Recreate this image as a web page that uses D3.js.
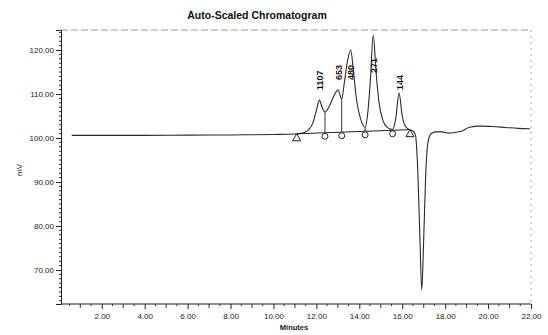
<!DOCTYPE html>
<html>
<head>
<meta charset="utf-8">
<script src="https://cdn.jsdelivr.net/npm/d3@7"></script>
<style>
  html, body { margin: 0; padding: 0; background: #fff; }
  svg { display: block; font-family: "Liberation Sans", Arial, sans-serif; }
</style>
</head>
<body>
<svg id="chart" width="548" height="335"></svg>
<script>
// Detector trace: retention time (min) and signal (mV)
const traceTime = [0.6, 2, 4, 6, 8, 10, 11.0, 11.4, 11.65, 11.85, 12.0, 12.14, 12.28, 12.4,
  12.6, 12.8, 12.95, 13.02, 13.1, 13.18, 13.3, 13.45, 13.6, 13.72, 13.85, 13.98, 14.12, 14.27,
  14.4, 14.52, 14.65, 14.78, 14.92, 15.1, 15.3, 15.55, 15.7, 15.85, 16.0, 16.15, 16.33, 16.5,
  16.62, 16.72, 16.82, 16.91, 17.0, 17.1, 17.22, 17.37, 17.6, 17.85, 18.15, 18.5, 18.8, 19.1,
  19.6, 20.2, 20.8, 21.4, 21.95];
const traceMv = [100.6, 100.6, 100.6, 100.65, 100.7, 100.8, 100.9, 101.2, 101.9, 103.6, 106.3, 108.6, 106.8, 105.9,
  107.2, 109.4, 110.7, 110.9, 109.8, 108.8, 112.5, 117.5, 120.0, 115.5, 109.5, 105.8, 103.5, 102.4,
  106.0, 113.5, 123.4, 115.0, 108.0, 104.0, 102.4, 101.9, 104.5, 110.2, 105.0, 102.6, 101.9, 101.6,
  100.6, 93.0, 78.0, 65.5, 77.0, 92.5, 99.6, 101.1, 101.4, 101.4, 101.1, 101.3, 101.6, 102.4,
  102.7, 102.6, 102.4, 102.2, 102.1];

// Integration: baseline start/end and valley drop times
const baselineTime = [11.08, 16.36];
const baselineMv = [100.95, 101.9];
const dropTimes = [12.4, 13.18, 14.27, 15.55];

// Peak annotations (area counts) at apex times, with label heights in mV
const peakLabels = ["1107", "653", "480", "271", "144"];
const peakTimes = [12.14, 13.02, 13.6, 14.65, 15.85];
const labelLevels = [110.9, 113.2, 113.2, 114.8, 110.9];

// Axis ticks
const xTicks = [2, 4, 6, 8, 10, 12, 14, 16, 18, 20, 22];
const yTicks = [70, 80, 90, 100, 110, 120];

const svg = d3.select("#chart");
const plot = { left: 61, right: 531, top: 30, bottom: 304 };

const x = d3.scaleLinear().domain([0.1, 22]).range([plot.left, plot.right]);
const y = d3.scaleLinear().domain([62.27, 124.55]).range([plot.bottom, plot.top]);

// Title
svg.append("text")
  .attr("x", 257).attr("y", 19)
  .attr("text-anchor", "middle")
  .attr("font-size", 10.5).attr("font-weight", "bold")
  .attr("fill", "#111")
  .text("Auto-Scaled Chromatogram");

// Frame: faint dashed top and right edges
svg.append("line").attr("x1", plot.left).attr("x2", plot.right).attr("y1", plot.top).attr("y2", plot.top)
  .attr("stroke", "#999").attr("stroke-width", 1).attr("stroke-dasharray", "7,3");
svg.append("line").attr("x1", plot.right).attr("x2", plot.right).attr("y1", plot.top).attr("y2", plot.bottom)
  .attr("stroke", "#aaa").attr("stroke-width", 1).attr("stroke-dasharray", "2,4");

// Y axis
const yAxis = d3.axisLeft(y).tickValues(yTicks).tickSize(5).tickPadding(2)
  .tickFormat(d3.format(".2f"));
const gy = svg.append("g").attr("transform", `translate(${plot.left},0)`).call(yAxis);
gy.select(".domain").attr("stroke", "#222");
gy.selectAll(".tick line").attr("stroke", "#222");
gy.selectAll(".tick text").attr("font-size", 8).attr("fill", "#222")
  .attr("font-family", "Liberation Sans, Arial, sans-serif");
const yMinor = d3.range(63, 125, 1).filter(v => !yTicks.includes(v));
svg.append("g").selectAll("line").data(yMinor).join("line")
  .attr("x1", plot.left - 2).attr("x2", plot.left).attr("y1", d => y(d)).attr("y2", d => y(d))
  .attr("stroke", "#333").attr("stroke-width", 1);

// X axis
const xAxis = d3.axisBottom(x).tickValues(xTicks).tickSize(5).tickPadding(4)
  .tickFormat(d3.format(".2f"));
const gx = svg.append("g").attr("transform", `translate(0,${plot.bottom})`).call(xAxis);
gx.select(".domain").attr("stroke", "#222").attr("d", `M${plot.left},0H${plot.right}`);
gx.selectAll(".tick line").attr("stroke", "#222");
gx.selectAll(".tick text").attr("font-size", 8).attr("fill", "#222")
  .attr("font-family", "Liberation Sans, Arial, sans-serif");
const xMinor = d3.range(0.5, 22, 0.5).filter(v => !xTicks.includes(v));
svg.append("g").selectAll("line").data(xMinor).join("line")
  .attr("x1", d => x(d)).attr("x2", d => x(d))
  .attr("y1", plot.bottom).attr("y2", d => plot.bottom + (Number.isInteger(d) ? 4 : 2))
  .attr("stroke", "#333").attr("stroke-width", 1);

// Axis titles
svg.append("text")
  .attr("transform", "translate(22,170) rotate(-90)")
  .attr("text-anchor", "middle")
  .attr("font-size", 8).attr("fill", "#222")
  .text("mV");
svg.append("text")
  .attr("x", 294).attr("y", 330)
  .attr("text-anchor", "middle")
  .attr("font-size", 7.5).attr("font-weight", "bold").attr("fill", "#222")
  .text("Minutes");

// Trace
const tracePts = traceTime.map((t, i) => [t, traceMv[i]]);
const line = d3.line().x(d => x(d[0])).y(d => y(d[1])).curve(d3.curveMonotoneX);
svg.append("path")
  .attr("d", line(tracePts))
  .attr("fill", "none").attr("stroke", "#2a2a2a").attr("stroke-width", 1.1);

// Integration baseline
const baseAt = t => baselineMv[0] + (t - baselineTime[0]) / (baselineTime[1] - baselineTime[0]) * (baselineMv[1] - baselineMv[0]);
svg.append("line")
  .attr("x1", x(baselineTime[0])).attr("y1", y(baselineMv[0]))
  .attr("x2", x(baselineTime[1])).attr("y2", y(baselineMv[1]))
  .attr("stroke", "#222").attr("stroke-width", 1);

// Trace value at a given time (linear between samples)
const traceAt = d3.scaleLinear().domain(traceTime).range(traceMv);

// Valley drop lines and circle markers
svg.append("g").selectAll("line").data(dropTimes).join("line")
  .attr("x1", d => x(d)).attr("x2", d => x(d))
  .attr("y1", d => y(traceAt(d))).attr("y2", d => y(baseAt(d)))
  .attr("stroke", "#333").attr("stroke-width", 1);
svg.append("g").selectAll("circle").data(dropTimes).join("circle")
  .attr("cx", d => x(d)).attr("cy", d => y(baseAt(d)) + 3.5)
  .attr("r", 3)
  .attr("fill", "#fff").attr("stroke", "#222").attr("stroke-width", 1);

// Start / end triangles
svg.append("g").selectAll("path").data(baselineTime).join("path")
  .attr("d", d => {
    const cx = x(d), cy = y(baseAt(d));
    return `M${cx},${cy}L${cx + 4},${cy + 7}L${cx - 4},${cy + 7}Z`;
  })
  .attr("fill", "#fff").attr("stroke", "#222").attr("stroke-width", 1);

// Peak labels
svg.append("g").selectAll("text").data(peakLabels).join("text")
  .attr("transform", (d, i) => `translate(${x(peakTimes[i]) + 3.5},${y(labelLevels[i])}) rotate(-90)`)
  .attr("text-anchor", "start")
  .attr("font-size", 9).attr("font-weight", "bold").attr("fill", "#111")
  .text(d => d);
</script>
</body>
</html>
